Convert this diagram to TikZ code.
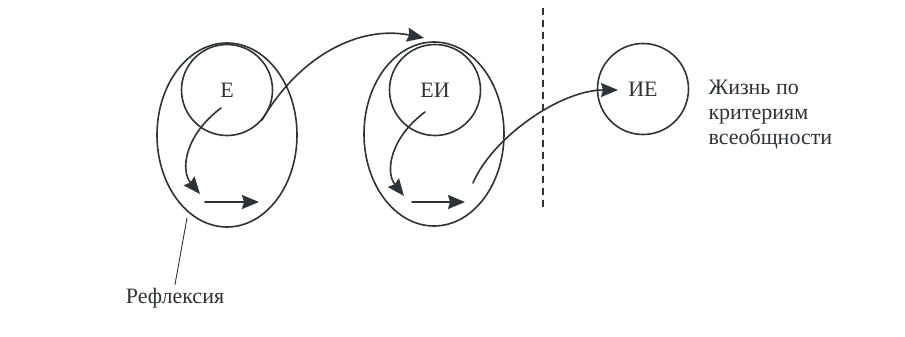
\documentclass[tikz,border=0pt]{standalone}
\usepackage{fontspec}
\setmainfont{Liberation Serif}
\usetikzlibrary{shapes.geometric,arrows.meta}
\definecolor{ink}{HTML}{2E3338}
\begin{document}
\begin{tikzpicture}[x=1pt,y=-1pt,line cap=round,line join=round,
  tip/.tip={Stealth[length=17pt,width=14pt,inset=2pt]},
  ring/.style={circle,draw=ink,line width=1.6pt,minimum size=91pt,inner sep=0pt,text=ink,font=\fontsize{22}{25}\selectfont},
  egg/.style={ellipse,draw=ink,line width=1.6pt,minimum width=140pt,minimum height=184pt,inner sep=0pt},
  flow/.style={-tip,draw=ink,line width=1.6pt},
  txt/.style={text=ink,font=\fontsize{22}{25}\selectfont}]
  \useasboundingbox (0,0) rectangle (905,337);
  \node[egg] (Eo) at (227,135) {};
  \node[ring] (E) at (227,90) {Е};
  \node[egg] (EIo) at (434,134) {};
  \node[ring] (EI) at (435,90) {ЕИ};
  \node[ring] (IE) at (643,89) {ИЕ};
  \node[txt,anchor=west,align=left] (life) at (705,115) {Жизнь по\\критериям\\всеобщности};
  \node[txt] (refl) at (175,298) {Рефлексия};
  % inner turns
  \coordinate (Es) at (221,108);
  \coordinate (Ee) at (200,194);
  \draw[flow] (Es) .. controls (185,135) and (180,170) .. (Ee);
  \coordinate (Ea) at (205,202);
  \coordinate (Eb) at (259,202);
  \draw[flow] (Ea) -- (Eb);
  \coordinate (EIs) at (425,112);
  \coordinate (EIe) at (404,196);
  \draw[flow] (EIs) .. controls (390,138) and (385,172) .. (EIe);
  \coordinate (EIa) at (412,202);
  \coordinate (EIb) at (465,202);
  \draw[flow] (EIa) -- (EIb);
  % jumps
  \coordinate (j1s) at (262,120);
  \coordinate (j1e) at (424,38);
  \draw[flow] (j1s) .. controls (300,55) and (360,25) .. (j1e);
  \coordinate (j2s) at (473,183);
  \coordinate (j2e) at (618,90);
  \draw[flow] (j2s) .. controls (492,138) and (560,90) .. (j2e);
  \coordinate (cutT) at (543,8);
  \coordinate (cutB) at (543,210);
  \draw[ink,line width=1.5pt,line cap=butt,dash pattern=on 7pt off 5pt] (cutT) -- (cutB);
  \coordinate (reflT) at (187,218);
  \draw[ink,line width=.9pt] (reflT) -- (refl.north);
\end{tikzpicture}
\end{document}
